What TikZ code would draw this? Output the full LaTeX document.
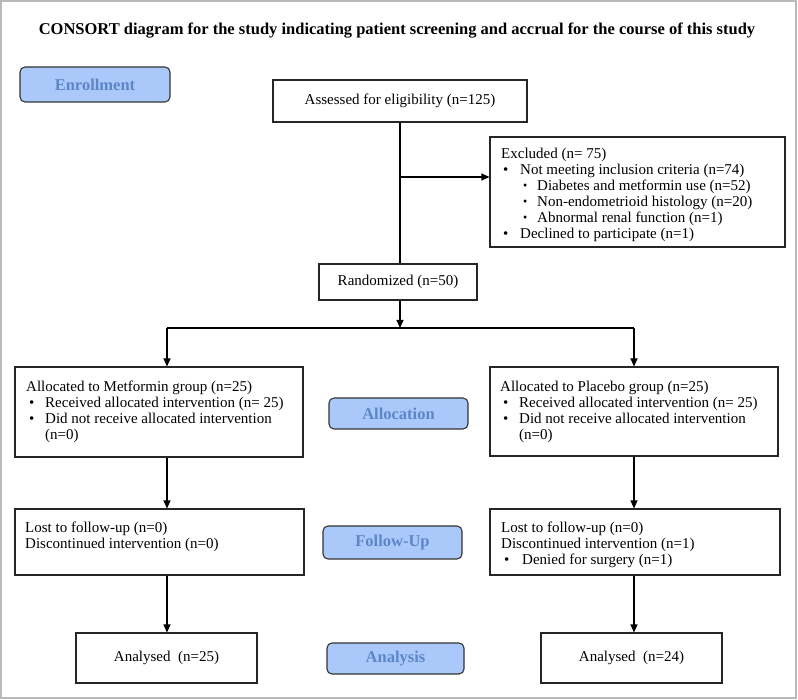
\documentclass[tikz,border=0pt]{standalone}
\usepackage{fontspec}
\usepackage{graphicx}
\setmainfont{Liberation Serif}
\usetikzlibrary{arrows.meta}
\definecolor{phfill}{RGB}{170,201,250}
\definecolor{phtext}{RGB}{92,134,200}
\definecolor{framegray}{RGB}{185,185,185}
\newcommand\fs{\fontsize{15}{16}\selectfont}
\newcommand\bl[2]{\hspace*{#1}\makebox[#2][l]{\textbullet}}
\newcommand\sbl[2]{\hspace*{#1}\makebox[#2][l]{\raisebox{0.6pt}{\scalebox{0.8}{\textbullet}}}}
\begin{document}
\begin{tikzpicture}[x=1pt,y=-1pt,
  box/.style={draw=black!85, line width=1.1pt, inner sep=0pt, font=\fs},
  phase/.style={draw=black!80, line width=1.1pt, rounded corners=5pt, fill=phfill, text=phtext, font=\fontsize{16.5}{18}\selectfont\bfseries, inner sep=0pt},
  txt/.style={anchor=north west, inner sep=0pt, align=left, font=\fs},
  conn/.style={line width=1.1pt, draw=black},
  arr/.style={conn, -{Triangle[length=8pt,width=7pt]}}]
\useasboundingbox (0,0) rectangle (798,700);
\draw[framegray, line width=2pt] (1,1) rectangle (796,698);

\node[font=\fontsize{16.5}{18}\selectfont\bfseries] (title) at (397,31) {CONSORT diagram for the study indicating patient screening and accrual for the course of this study};

% phase labels
\node[phase, minimum width=150pt, minimum height=35pt] (enroll) at (95,84.5) {Enrollment};
\node[phase, minimum width=139pt, minimum height=31pt] (alloc) at (398.5,413.5) {Allocation};
\node[phase, minimum width=139pt, minimum height=33pt] (follow) at (392.5,542.5) {Follow-Up};
\node[phase, minimum width=137pt, minimum height=31pt] (analysis) at (395.5,658.5) {Analysis};

% boxes
\node[box, minimum width=254pt, minimum height=42pt] (assess) at (400,101) {Assessed for eligibility (n=125)};
\node[box, minimum width=295pt, minimum height=110pt] (excl) at (637.5,192) {};
\node[txt] (excltxt) at (501,147.5) {Excluded (n= 75)\\
\bl{2pt}{17pt}Not meeting inclusion criteria (n=74)\\
\sbl{22pt}{14pt}Diabetes and metformin use (n=52)\\
\sbl{22pt}{14pt}Non-endometrioid histology (n=20)\\
\sbl{22pt}{14pt}Abnormal renal function (n=1)\\
\bl{2pt}{17pt}Declined to participate (n=1)};
\node[box, minimum width=158pt, minimum height=36pt] (rand) at (398,282) {Randomized (n=50)};

\node[box, minimum width=288pt, minimum height=90pt] (met) at (159,412) {};
\node[txt] (mettxt) at (26,380.5) {Allocated to Metformin group (n=25)\\
\bl{3pt}{16pt}Received allocated intervention (n= 25)\\
\bl{3pt}{16pt}Did not receive allocated intervention\\
\hspace*{19pt}(n=0)};
\node[box, minimum width=288pt, minimum height=89pt] (plac) at (634,411.5) {};
\node[txt] (plactxt) at (500,380.5) {Allocated to Placebo group (n=25)\\
\bl{3pt}{16pt}Received allocated intervention (n= 25)\\
\bl{3pt}{16pt}Did not receive allocated intervention\\
\hspace*{19pt}(n=0)};

\node[box, minimum width=289pt, minimum height=66pt] (lostL) at (159.5,542) {};
\node[txt] (lostLtxt) at (25,521.5) {Lost to follow-up (n=0)\\
Discontinued intervention (n=0)};
\node[box, minimum width=290pt, minimum height=66pt] (lostR) at (635,542) {};
\node[txt] (lostRtxt) at (501,521.5) {Lost to follow-up (n=0)\\
Discontinued intervention (n=1)\\
\bl{3pt}{18pt}Denied for surgery (n=1)};

\node[box, minimum width=181pt, minimum height=50pt] (anL) at (166.5,658) {Analysed~~(n=25)};
\node[box, minimum width=181pt, minimum height=50pt] (anR) at (631.5,658) {Analysed~~(n=24)};

% connectors
\coordinate (exclsrc) at (400,177);
\coordinate (split) at (400,328);
\coordinate (splitL) at (167,328);
\coordinate (splitR) at (634,328);
\draw[conn] (assess.south) -- (assess.south |- rand.north);
\draw[arr] (exclsrc) -- (exclsrc -| excl.west);
\draw[arr] (assess.south |- rand.south) -- (split);
\draw[conn] (splitL) -- (splitR);
\draw[arr] (splitL) -- (splitL |- met.north);
\draw[arr] (splitR) -- (splitR |- plac.north);
\draw[arr] (splitL |- met.south) -- (splitL |- lostL.north);
\draw[arr] (splitR |- plac.south) -- (splitR |- lostR.north);
\draw[arr] (splitL |- lostL.south) -- (splitL |- anL.north);
\draw[arr] (splitR |- lostR.south) -- (splitR |- anR.north);
\end{tikzpicture}
\end{document}
